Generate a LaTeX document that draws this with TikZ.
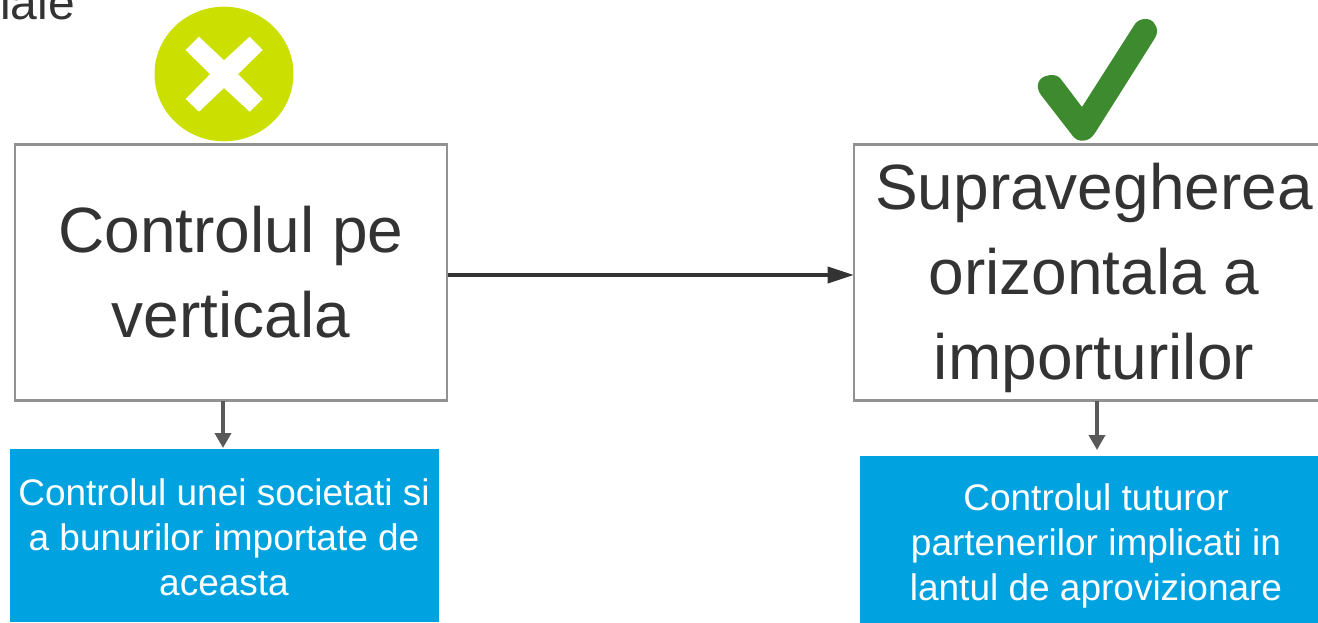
\documentclass[tikz,border=0pt]{standalone}
\usepackage{fontspec}
\setmainfont{Liberation Sans}
\usetikzlibrary{arrows.meta}
\definecolor{ink}{HTML}{333333}
\definecolor{boxline}{HTML}{929292}
\definecolor{bluefill}{HTML}{00A2E0}
\definecolor{lime}{HTML}{CBDF00}
\definecolor{tick}{HTML}{3E8B2F}
\definecolor{darr}{HTML}{595959}
\tikzset{
  x=1pt,y=-1pt,
  bigbox/.style={draw=boxline,line width=2.6pt,fill=white,inner sep=0pt,text=ink,align=center,font=\fontsize{64}{85}\selectfont},
  bluebox/.style={fill=bluefill,inner sep=0pt,text=white,align=center,font=\fontsize{37}{45}\selectfont},
  mainarr/.style={draw=ink,line width=3.6pt,-{Triangle[length=26pt,width=16pt]},shorten >=-1pt},
  downarr/.style={draw=darr,line width=3.6pt,-{Triangle[length=15pt,width=16pt]}}
}
\begin{document}
\begin{tikzpicture}
\useasboundingbox (0,0) rectangle (1318,623);
\clip (0,0) rectangle (1318,623);
\node[anchor=base west,inner sep=0pt,text=ink,font=\fontsize{48}{56}\selectfont] (frag) at (0,20) {iale};
\node[bigbox,minimum width=432pt,minimum height=256pt] (left) at (231,272.5) {Controlul pe\\verticala};
\node[bigbox,minimum width=480pt,minimum height=256pt] (right) at (1094,272.5) {\rule{0pt}{57pt}Supravegherea\\orizontala a\\importurilor};
\node[bluebox,minimum width=429pt,minimum height=173pt] (lb) at (224,535.5) {\rule{0pt}{30pt}Controlul unei societati si\\a bunurilor importate de\\aceasta};
\node[bluebox,minimum width=472pt,minimum height=180pt] (rb) at (1096,546) {Controlul tuturor\\partenerilor implicati in\\lantul de aprovizionare};
\draw[mainarr] (left.east |- 0,275) coordinate (a1) -- (right.west |- 0,275) coordinate (a2);
\draw[downarr] (223,401) coordinate (d1) -- (223,448) coordinate (d2);
\draw[downarr] (1097,401) coordinate (d3) -- (1097,450) coordinate (d4);
\fill[lime] (224,74) ellipse [x radius=69.5,y radius=67.3];
\fill[white] (224,60.3) -- (199,36.7) -- (185.7,50) -- (210,74.2) -- (185.7,99) -- (199,111.7) -- (224,88) -- (249.7,111.7) -- (262.7,99) -- (238,74.2) -- (262.7,50) -- (249.7,36.7) -- cycle;
\fill[tick] (1135,24) .. controls (1139,18) and (1150,17) .. (1154,23) .. controls (1158,28) and (1158,33) .. (1155,38) -- (1095,133) .. controls (1089,143) and (1077,143) .. (1072,135) -- (1041,95) .. controls (1035,87) and (1038,78) .. (1046,76) .. controls (1051,74) and (1057,75) .. (1060,78) -- (1082,107) -- cycle;
\end{tikzpicture}
\end{document}
